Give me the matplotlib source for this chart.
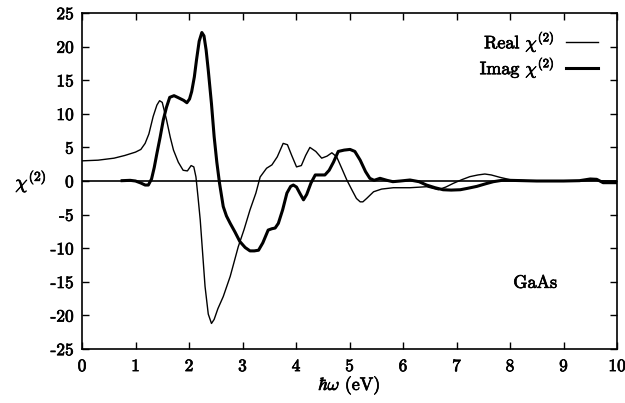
import matplotlib
matplotlib.use("Agg")
import matplotlib.pyplot as plt
import matplotlib.patheffects as pe

plt.rcParams['font.family'] = 'serif'
plt.rcParams['font.serif'] = ['cmr10', 'DejaVu Serif']
plt.rcParams['mathtext.fontset'] = 'cm'
plt.rcParams['axes.unicode_minus'] = False

# real part of chi(2)
realX = [0, 0.3, 0.6, 0.8, 1.0, 1.1, 1.18, 1.25, 1.33, 1.4, 1.45, 1.5, 1.58, 1.65, 1.71,
         1.8, 1.89, 1.97, 2.04, 2.09, 2.13, 2.17, 2.21, 2.3, 2.36, 2.42, 2.47, 2.54, 2.64, 2.77,
         2.92, 3.03, 3.14, 3.25, 3.33, 3.45, 3.55, 3.65, 3.76, 3.84, 3.92, 4.01, 4.1, 4.18, 4.26,
         4.37, 4.48, 4.58, 4.67, 4.76, 4.86, 4.95, 5.05, 5.13, 5.2, 5.25, 5.32, 5.45, 5.6, 5.82,
         6.13, 6.44, 6.66, 6.8, 6.94, 7.1, 7.25, 7.4, 7.53, 7.65, 7.81, 8.0, 8.3, 8.7, 9.2,
         9.6, 10.0]
realY = [3.0, 3.1, 3.4, 3.8, 4.3, 4.7, 5.6, 7.0, 9.6, 11.3, 11.95, 11.7, 9.1, 6.5, 4.6,
         2.8, 1.6, 1.5, 2.3, 2.1, 0.6, -2.5, -5.8, -15.7, -19.8, -21.2, -20.6, -19, -17.2, -14.2,
         -9.8, -7.2, -4.3, -1.8, 0.6, 1.9, 2.4, 3.6, 5.6, 5.4, 3.8, 2.1, 2.3, 3.8, 5.0,
         4.4, 3.4, 3.7, 4.2, 3.6, 1.8, 0.15, -1.4, -2.6, -3.1, -3.1, -2.6, -1.6, -1.2, -1.0,
         -1.0, -0.85, -1.3, -0.9, -0.35, 0.2, 0.65, 0.9, 1.04, 0.9, 0.55, 0.2, 0.05, 0, 0,
         0.05, 0]

# imaginary part of chi(2)
imagX = [0.75, 0.9, 1.0, 1.1, 1.18, 1.24, 1.3, 1.35, 1.4, 1.46, 1.52, 1.58, 1.64, 1.72, 1.8,
         1.9, 1.96, 2.01, 2.05, 2.1, 2.14, 2.19, 2.24, 2.28, 2.32, 2.36, 2.42, 2.47, 2.52, 2.57,
         2.64, 2.7, 2.77, 2.86, 2.95, 3.05, 3.14, 3.22, 3.30, 3.38, 3.48, 3.55, 3.61, 3.67, 3.75,
         3.83, 3.9, 3.95, 4.01, 4.07, 4.14, 4.2, 4.28, 4.36, 4.45, 4.54, 4.62, 4.7, 4.79, 4.9,
         5.01, 5.1, 5.2, 5.3, 5.38, 5.46, 5.57, 5.7, 5.81, 5.95, 6.13, 6.3, 6.44, 6.6, 6.75,
         6.9, 7.07, 7.2, 7.38, 7.55, 7.69, 7.85, 8.0, 8.5, 9.0, 9.3, 9.5, 9.62, 9.74, 10.0]
imagY = [0.05, 0.1, 0.0, -0.3, -0.6, -0.6, 0.3, 2.0, 4.1, 6.5, 9.1, 11.0, 12.45, 12.7, 12.4,
         12.0, 11.65, 12.2, 13.3, 15.5, 18, 20.8, 22.1, 21.6, 19.5, 16.5, 11.5, 6.6, 2.8, -0.3,
         -3.8, -5.2, -6.3, -7.6, -9.0, -9.9, -10.4, -10.4, -10.3, -9.2, -7.3, -7.1, -7.0, -6.3, -4.3,
         -1.8, -0.8, -0.6, -0.9, -1.8, -2.8, -2.0, -0.3, 0.9, 0.9, 0.9, 1.6, 2.8, 4.4, 4.6,
         4.7, 4.4, 3.1, 1.4, 0.4, 0.1, 0.4, 0.1, -0.1, 0.0, 0.15, -0.1, -0.6, -1.0, -1.3,
         -1.35, -1.3, -1.1, -0.8, -0.4, -0.1, 0.1, 0.1, 0.0, 0.0, 0.05, 0.3, 0.25, -0.25, -0.25]

xticks = list(range(0, 11))
yticks = list(range(-25, 30, 5))

fig = plt.figure(figsize=(6.25, 4.03), dpi=100)
ax = fig.add_axes([0.1312, 0.134, 0.856, 0.8337])

ax.axhline(0, color='black', lw=1.2)
ax.plot(realX, realY, color='black', lw=1.0, label=r'Real $\chi^{(2)}$')
ax.plot(imagX, imagY, color='black', lw=2.2, label=r'Imag $\chi^{(2)}$')

ax.set_xlim(0, 10)
ax.set_ylim(-25, 25)
ax.set_xticks(xticks)
ax.set_yticks(yticks)
ax.tick_params(direction='in', top=True, right=True, length=5, width=1,
               labelsize=12.5)
ax.tick_params(axis='x', pad=7)
ax.tick_params(axis='y', pad=6)
for s in ax.spines.values():
    s.set_linewidth(1.2)

heavy = [pe.withStroke(linewidth=0.5, foreground='black')]

ax.set_xlabel(r'$\hbar\omega$ (eV)', fontsize=13, labelpad=0, path_effects=heavy)
ax.set_ylabel(r'$\chi^{(2)}$', fontsize=14, rotation=0, labelpad=14, va='center',
              path_effects=heavy)

leg = ax.legend(loc='upper right', frameon=False, markerfirst=False, fontsize=13,
                handlelength=1.8, handletextpad=0.6, labelspacing=0.0,
                borderaxespad=0, borderpad=0,
                bbox_to_anchor=(598 / 625, 1 - 29 / 403), bbox_transform=fig.transFigure)
for t in leg.get_texts():
    t.set_path_effects(heavy)

ax.text(8.47, -15.2, 'GaAs', fontsize=13, ha='center', va='center', path_effects=heavy)

for lbl in ax.get_xticklabels() + ax.get_yticklabels():
    lbl.set_path_effects(heavy)

fig.savefig('out.png', dpi=100)
